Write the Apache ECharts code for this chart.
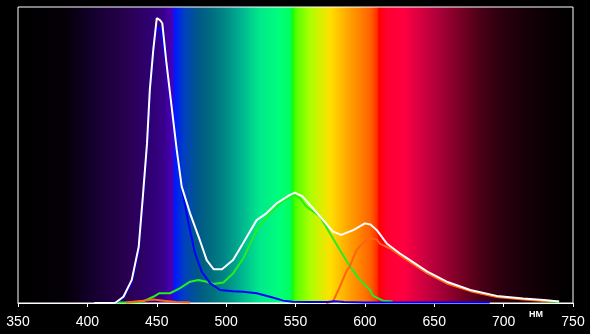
<!DOCTYPE html>
<html>
<head>
<meta charset="utf-8">
<script src="https://cdn.jsdelivr.net/npm/echarts@6/dist/echarts.min.js"></script>
<style>
html,body{margin:0;padding:0;background:#000;}
#chart{width:590px;height:334px;}
</style>
</head>
<body>
<div id="chart"></div>
<script>
// Tick labels (nm)
var xTicks = [350, 400, 450, 500, 550, 600, 650, 700, 750];
var unitLabel = 'НМ';

// White (total) curve
var whiteNm  = [405,415,420,426,432,437,440,443,445,447.5,450,452.3,454,457,461,464.4,468,474,481,486,491,497,505,512,522,529,536.5,546,549.6,555,560.5,570,577,583,592,600,604,608.5,616,625,632.5,645,659,676,695,714,729,740];
var whiteVal = [0,0,0,0.021,0.078,0.19,0.36,0.54,0.72,0.855,0.962,0.956,0.945,0.81,0.652,0.517,0.393,0.303,0.213,0.145,0.114,0.114,0.145,0.2,0.28,0.303,0.337,0.365,0.373,0.36,0.331,0.28,0.241,0.23,0.247,0.269,0.265,0.247,0.2,0.168,0.145,0.106,0.072,0.044,0.024,0.015,0.01,0.005];

// Blue curve
var blueNm  = [415,420,426,432,437,440,443,445,447.5,450,451.5,453,457,461,464.4,468,472.8,477.6,482.4,488.4,495.6,505,512.4,522,531.6,541.2,548,560,573,578,585,600,650,690];
var blueVal = [0,0,0.018,0.07,0.18,0.35,0.53,0.71,0.845,0.925,0.93,0.92,0.80,0.645,0.51,0.39,0.27,0.168,0.106,0.067,0.044,0.040,0.038,0.033,0.021,0.008,0.004,0.003,0.003,0.006,0.003,0.002,0.002,0.002];

// Green curve
var greenNm  = [420,432,439,447.5,452,459.5,466.8,474,480,486,490.8,498,505,512.4,522,531.6,538.8,546,548.4,553,558,567.6,574.9,582,589.3,596.5,603.7,606,613,620,660,727,740];
var greenVal = [0.002,0.002,0.003,0.021,0.033,0.033,0.05,0.072,0.078,0.072,0.064,0.069,0.1,0.151,0.247,0.303,0.337,0.359,0.365,0.355,0.325,0.292,0.235,0.179,0.123,0.078,0.044,0.024,0.008,0.005,null,0.006,0.004];

// Orange (red) curve
var orangeNm  = [428,440,447.5,455,464,474,520,572,577,582,587,589,594,598,601,605,608.5,611,618,625,632,645,659,676,695,714,729,733];
var orangeVal = [0.002,0.008,0.012,0.008,0.003,0.002,null,0,0.005,0.055,0.11,0.123,0.179,0.2,0.213,0.218,0.215,0.2,0.185,0.162,0.14,0.1,0.066,0.04,0.02,0.012,0.007,0.005];

// Spectrum background (nm, colour)
var specNm  = [350,385,405,430,445,455,461.5,463,470,480,490,500,510,524,539,546,548,550,560,568,575,582,589,597,604,608.7,610,616,628,642,654,666,681,695,714,733,748,750];
var specCol = ['#000000','#050008','#14002e','#2a0052','#2e0070','#38008a','#4800b8','#0018ff','#0040c0','#005888','#006e80','#008a86','#00b090','#00e88c','#00ff7a','#00ff60','#10ff10','#50ff00','#a8ff00','#d8f000','#ffe000','#ffc000','#ffa000','#ff8000','#ff6000','#ff3000','#ff0000','#ff0030','#ff0040','#d00040','#a80038','#800028','#500018','#300010','#180008','#080002','#000000','#000000'];

function zip(a, b) { return a.map(function (v, i) { return [v, b[i]]; }); }

var stops = specNm.map(function (n, i) {
  return { offset: (n - 350) / 400, color: specCol[i] };
});

var chart = echarts.init(document.getElementById('chart'), null, { renderer: 'canvas' });
chart.setOption({
  animation: false,
  backgroundColor: '#000',
  grid: {
    left: 18, right: 17, top: 7, bottom: 31,
    show: true,
    borderColor: '#ffffff',
    borderWidth: 1,
    backgroundColor: { type: 'linear', x: 0, y: 0, x2: 1, y2: 0, colorStops: stops }
  },
  xAxis: {
    type: 'value', min: 350, max: 750, interval: 50,
    axisLine: { show: true, lineStyle: { color: '#fff', width: 1 } },
    axisTick: { show: true, length: 4, lineStyle: { color: '#fff' } },
    splitLine: { show: false },
    axisLabel: { color: '#fff', fontSize: 14, fontFamily: 'Liberation Sans, Arial, sans-serif', margin: 12,
      formatter: function (v) { return xTicks.indexOf(v) >= 0 ? String(v) : ''; } }
  },
  yAxis: { type: 'value', min: 0, max: 1, show: false, splitLine: { show: false } },
  graphic: [{
    type: 'text', left: 529, top: 310,
    style: { text: unitLabel, fill: '#fff', font: 'bold 9px Liberation Sans, Arial, sans-serif' }
  }],
  series: [
    { type: 'line', data: zip(greenNm, greenVal), showSymbol: false, connectNulls: false,
      lineStyle: { color: '#22ee22', width: 2 }, z: 2 },
    { type: 'line', data: zip(orangeNm, orangeVal), showSymbol: false, connectNulls: false,
      lineStyle: { color: '#ff6410', width: 2 }, z: 3 },
    { type: 'line', data: zip(blueNm, blueVal), showSymbol: false,
      lineStyle: { color: '#0000ff', width: 2 }, z: 4 },
    { type: 'line', data: zip(whiteNm, whiteVal), showSymbol: false,
      lineStyle: { color: '#ffffff', width: 2 }, z: 5 }
  ]
});
</script>
</body>
</html>
